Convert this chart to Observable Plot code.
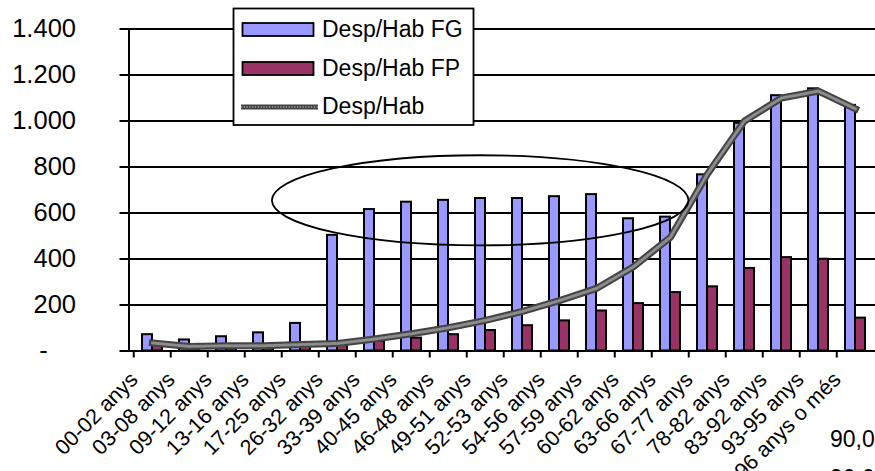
<!DOCTYPE html>
<html>
<head>
<meta charset="utf-8">
<script src="https://cdn.jsdelivr.net/npm/d3@7"></script>
<script src="https://cdn.jsdelivr.net/npm/@observablehq/plot@0.6"></script>
<style>
  html, body { margin: 0; padding: 0; background: white; overflow: hidden; }
  #wrap { position: relative; width: 875px; height: 471px; overflow: hidden; font-family: "Liberation Sans", Arial, sans-serif; }
  #overlay { position: absolute; left: 0; top: 0; pointer-events: none; }
</style>
</head>
<body>
<div id="wrap"></div>
<script>
// ---- data ----
const categories = ["00-02 anys","03-08 anys","09-12 anys","13-16 anys","17-25 anys","26-32 anys","33-39 anys","40-45 anys","46-48 anys","49-51 anys","52-53 anys","54-56 anys","57-59 anys","60-62 anys","63-66 anys","67-77 anys","78-82 anys","83-92 anys","93-95 anys","96 anys o més"];
const despHabFG = [71, 48, 62, 79, 120, 503, 615, 647, 655, 663, 663, 671, 680, 575, 582, 766, 990, 1110, 1140, 1068];
const despHabFP = [30, 10, 14, 15, 20, 37, 42, 56, 71, 89, 110, 131, 174, 206, 254, 279, 359, 406, 399, 143];
const despHab = [35, 20, 23, 23, 28, 33, 52, 75, 101, 133, 172, 219, 272, 366, 495, 770, 1000, 1100, 1130, 1053];
const yTicks = [0, 200, 400, 600, 800, 1000, 1200, 1400];
const seriesNames = ["Desp/Hab FG", "Desp/Hab FP", "Desp/Hab"];
const strayLabels = ["90,0", "90,0"];
// ellipse annotation (category-position units and value units)
const ellipseCenterIndex = 8.87;
const ellipseCenterValue = 653;
const ellipseRadiusCategories = 5.63;
const ellipseRadiusValue = 196;

const colFG = "#9999FF", colFP = "#993366";
const rows = categories.map((c, i) => ({cat: c, fg: despHabFG[i], fp: despHabFP[i], tot: despHab[i]}));

const fmtLocale = d3.formatLocale({decimal: ",", thousands: ".", grouping: [3], currency: ["", ""]});
const fmt = fmtLocale.format(",");
const yFormat = d => d === 0 ? "-\u2007\u2007" : fmt(d);

function ellipseMark(index, scales) {
  const {x, y} = scales;
  const step = x(categories[1]) - x(categories[0]);
  const bw = typeof x.bandwidth === "function" ? x.bandwidth() : 0;
  const c0 = x(categories[0]) + bw / 2;
  const cx = c0 + ellipseCenterIndex * step;
  const cy = y(ellipseCenterValue);
  const rx = ellipseRadiusCategories * step;
  const ry = Math.abs(y(ellipseCenterValue + ellipseRadiusValue) - cy);
  const el = document.createElementNS("http://www.w3.org/2000/svg", "ellipse");
  el.setAttribute("cx", cx); el.setAttribute("cy", cy);
  el.setAttribute("rx", rx); el.setAttribute("ry", ry);
  el.setAttribute("fill", "none"); el.setAttribute("stroke", "black"); el.setAttribute("stroke-width", 1.8);
  return el;
}

const chart = Plot.plot({
  width: 875,
  height: 471,
  marginLeft: 128.5,
  marginRight: 0,
  marginTop: 28.5,
  marginBottom: 120.5,
  style: {fontFamily: "'Liberation Sans', Arial, sans-serif", color: "black", background: "white", overflow: "hidden"},
  x: {domain: categories, range: [128.5, 878.5], paddingInner: 0.4667, paddingOuter: 0.2333},
  y: {domain: [0, 1400]},
  marks: [
    Plot.ruleY(yTicks, {stroke: "black", strokeWidth: 2}),
    Plot.axisY({ticks: yTicks, tickSize: 9, tickPadding: 44, tickFormat: yFormat, fontSize: 25.5, stroke: "black", strokeWidth: 2, fill: "black", label: null}),
    Plot.axisX({ticks: categories, tickSize: 7, stroke: "black", strokeWidth: 2, fill: "none", dx: -18.75, label: null}),
    Plot.frame({anchor: "left", stroke: "black", strokeWidth: 2}),
    Plot.barY(rows, {x: "cat", y: "fg", fill: colFG, stroke: "black", strokeWidth: 2, insetRight: 10}),
    Plot.barY(rows, {x: "cat", y: "fp", fill: colFP, stroke: "black", strokeWidth: 2, insetLeft: 10}),
    Plot.line(rows, {x: "cat", y: "tot", stroke: "#444", strokeWidth: 7, strokeLinecap: "square"}),
    Plot.line(rows, {x: "cat", y: "tot", stroke: "#8c8c8c", strokeWidth: 3, strokeDasharray: "1.2,1.6"}),
    ellipseMark,
    Plot.text(categories, {x: d => d, frameAnchor: "bottom", text: d => d, rotate: -45, textAnchor: "end", lineAnchor: "bottom", dx: -13.5, dy: 30, fontSize: 21.5, fill: "black"})
  ]
});

const wrap = document.getElementById("wrap");
wrap.appendChild(chart);

// legend + stray labels overlay
const ov = d3.select(wrap).append("svg").attr("id", "overlay").attr("width", 875).attr("height", 471)
  .style("font-family", "'Liberation Sans', Arial, sans-serif");
ov.append("rect").attr("x", 233.5).attr("y", 8.5).attr("width", 240).attr("height", 116.5)
  .attr("fill", "white").attr("stroke", "black").attr("stroke-width", 1.8);
ov.append("rect").attr("x", 242.5).attr("y", 23).attr("width", 71).attr("height", 13)
  .attr("fill", colFG).attr("stroke", "black").attr("stroke-width", 1.8);
ov.append("rect").attr("x", 242.5).attr("y", 62).attr("width", 71).attr("height", 13)
  .attr("fill", colFP).attr("stroke", "black").attr("stroke-width", 1.8);
ov.append("line").attr("x1", 241).attr("x2", 318).attr("y1", 107).attr("y2", 107)
  .attr("stroke", "#444").attr("stroke-width", 5);
ov.append("line").attr("x1", 241).attr("x2", 318).attr("y1", 107).attr("y2", 107)
  .attr("stroke", "#8c8c8c").attr("stroke-width", 2).attr("stroke-dasharray", "1.2,1.6");
const baselines = [37, 76, 114];
seriesNames.forEach((name, i) => {
  ov.append("text").attr("x", 322).attr("y", baselines[i]).attr("font-size", 23).attr("fill", "black").text(name);
});
ov.append("text").attr("x", 830).attr("y", 447).attr("font-size", 23).attr("fill", "black").text(strayLabels[0]);
ov.append("text").attr("x", 830).attr("y", 486).attr("font-size", 23).attr("fill", "black").text(strayLabels[1]);
</script>
</body>
</html>
